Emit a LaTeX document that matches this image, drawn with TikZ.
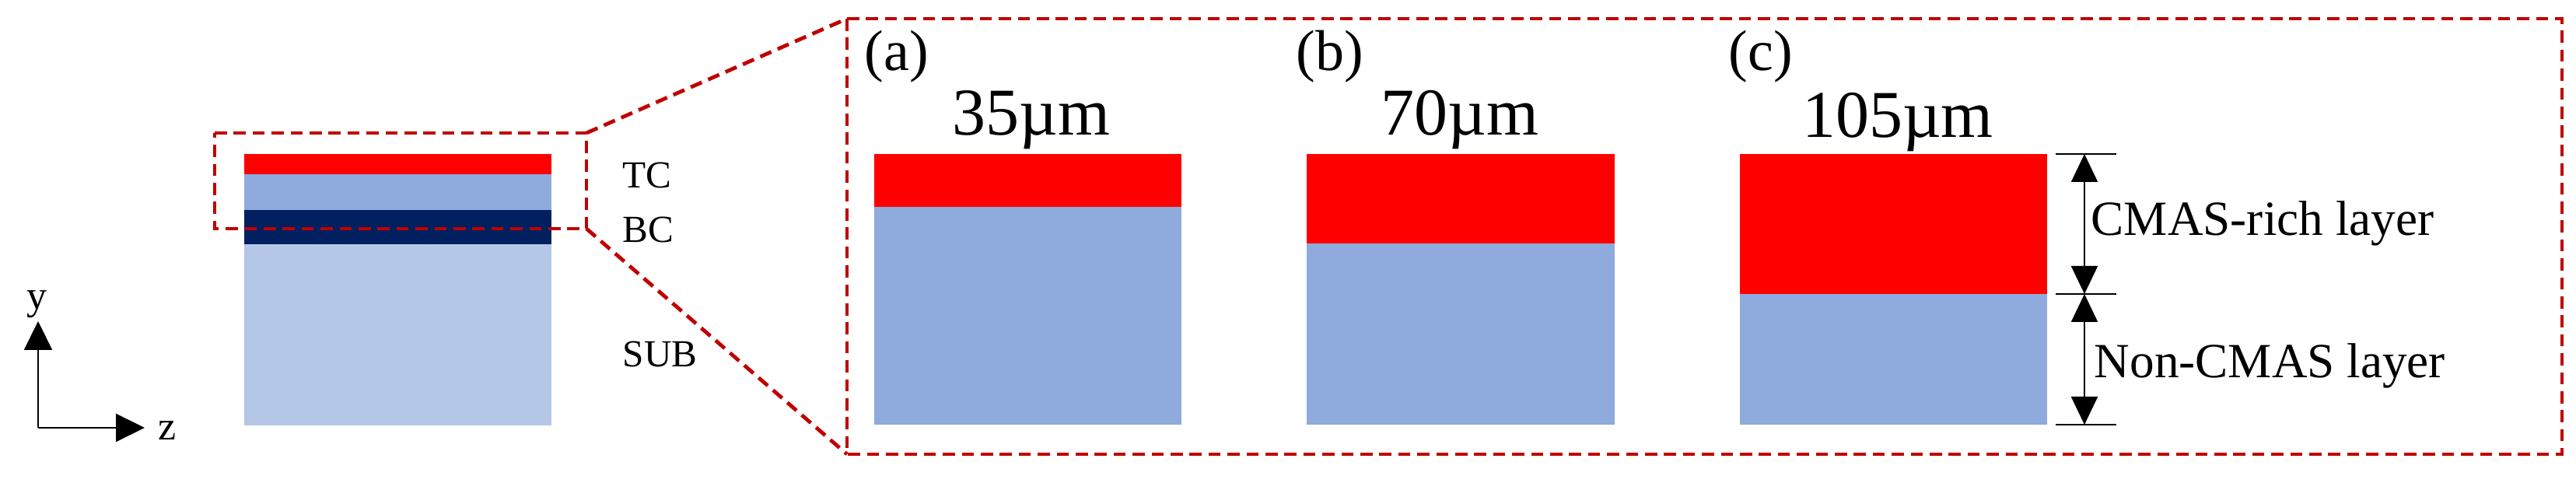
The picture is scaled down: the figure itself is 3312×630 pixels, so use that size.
\documentclass[tikz,border=0pt]{standalone}
\usepackage{fontspec}
\setmainfont{Liberation Serif}
\usetikzlibrary{arrows.meta}
\definecolor{cmasred}{HTML}{FF0000}
\definecolor{tbcblue}{HTML}{8FAADC}
\definecolor{bcnavy}{HTML}{002060}
\definecolor{subblue}{HTML}{B4C7E7}
\definecolor{dashred}{HTML}{C00000}
\begin{document}
\begin{tikzpicture}[x=0.25pt,y=-0.25pt,
  zoomline/.style={draw=dashred, line width=1.2pt, dash pattern=on 3.9pt off 2.2pt},
  layerlbl/.style={inner sep=0pt, anchor=base west, font=\fontsize{12.3}{14}\selectfont},
  axlbl/.style={inner sep=0pt, anchor=base, font=\fontsize{13}{15}\selectfont},
  panellbl/.style={inner sep=0pt, anchor=base west, font=\fontsize{18.5}{21}\selectfont},
  sizelbl/.style={inner sep=0pt, anchor=base, font=\fontsize{21.5}{26}\selectfont},
  dimlbl/.style={inner sep=0pt, anchor=base west, font=\fontsize{15.8}{18}\selectfont},
  dimarrow/.style={line width=0.5pt, {Triangle[width=8.5pt,length=9pt]}-{Triangle[width=8.5pt,length=9pt]}},
  tickline/.style={line width=0.6pt},
  axarrow/.style={line width=0.55pt, -{Triangle[width=9pt,length=9.25pt]}}
]
\useasboundingbox (0,0) rectangle (3312,630);

% ---- left stack ----
\fill[cmasred] (314,198) rectangle (709,224);
\fill[tbcblue] (314,224) rectangle (709,270);
\fill[bcnavy]  (314,270) rectangle (709,314);
\fill[subblue] (314,314) rectangle (709,547);

\node[layerlbl] (tc)  at (800,242) {TC};
\node[layerlbl] (bc)  at (800,312) {BC};
\node[layerlbl] (sub) at (800,472) {SUB};

% ---- axes ----
\coordinate (o) at (49,550);
\coordinate (ytip) at (49,413);
\coordinate (ztip) at (186,550);
\draw[axarrow] (o) -- (ytip);
\draw[axarrow] (o) -- (ztip);
\node[axlbl] (ylab) at (48,398) {y};
\node[axlbl] (zlab) at (215,566) {z};

% ---- zoom boxes ----
\coordinate (s1) at (276,171);
\coordinate (s2) at (754,171);
\coordinate (s3) at (754,294);
\coordinate (s4) at (276,294);
\coordinate (b1) at (1089,24);
\coordinate (b2) at (3294,24);
\coordinate (b3) at (3294,584);
\coordinate (b4) at (1089,584);
\draw[zoomline] (s1) -- (s2) -- (s3) -- (s4) -- cycle;
\draw[zoomline] (b1) -- (b2) -- (b3) -- (b4) -- cycle;
\draw[zoomline] (s2) -- (b1);
\draw[zoomline] (s3) -- (b4);

% ---- panel (a) ----
\fill[cmasred] (1124,198) rectangle (1519,266);
\fill[tbcblue] (1124,266) rectangle (1519,546);
\node[panellbl] (pa) at (1111,91) {(a)};
\node[sizelbl] (ta) at (1326,174) {35µm};

% ---- panel (b) ----
\fill[cmasred] (1680,198) rectangle (2076,313);
\fill[tbcblue] (1680,313) rectangle (2076,546);
\node[panellbl] (pb) at (1666,91) {(b)};
\node[sizelbl] (tb) at (1877,174) {70µm};

% ---- panel (c) ----
\fill[cmasred] (2237,198) rectangle (2632,378);
\fill[tbcblue] (2237,378) rectangle (2632,546);
\node[panellbl] (pc) at (2222,91) {(c)};
\node[sizelbl] (tcc) at (2440,177) {105µm};

% ---- dimension lines ----
\coordinate (d1) at (2680,198);
\coordinate (d2) at (2680,378);
\coordinate (d3) at (2680,546);
\coordinate (t1l) at (2643,198);
\coordinate (t1r) at (2721,198);
\coordinate (t2l) at (2643,378);
\coordinate (t2r) at (2721,378);
\coordinate (t3l) at (2643,546);
\coordinate (t3r) at (2721,546);
\draw[tickline] (t1l) -- (t1r);
\draw[tickline] (t2l) -- (t2r);
\draw[tickline] (t3l) -- (t3r);
\draw[dimarrow] (d1) -- (d2);
\draw[dimarrow] (d2) -- (d3);
\node[dimlbl] (rich) at (2688,303) {CMAS-rich layer};
\node[dimlbl] (non) at (2692,486) {Non-CMAS layer};
\end{tikzpicture}
\end{document}
